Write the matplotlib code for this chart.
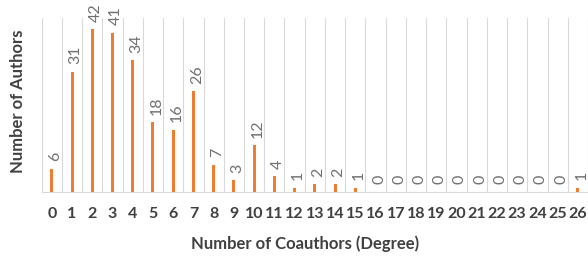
import matplotlib
matplotlib.use("Agg")
import matplotlib.pyplot as plt
import numpy as np

degree = [str(d) for d in range(27)]
authors = [6, 31, 42, 41, 34, 18, 16, 26, 7, 3, 12, 4, 1, 2, 2, 1,
           0, 0, 0, 0, 0, 0, 0, 0, 0, 0, 1]

plt.rcParams['font.family'] = ['Lato', 'DejaVu Sans']

fig = plt.figure(figsize=(5.88, 2.61), dpi=100)
ax = fig.add_axes([0.0709, 0.2644, 0.9291, 0.6682])

x = np.arange(len(authors))
ax.bar(x, authors, width=0.15, color='#ED7D31', zorder=3)

for xi, v in zip(x, authors):
    ax.annotate(str(v), (xi, v), xytext=(2.5, 5.5), textcoords='offset points',
                rotation=90, ha='center', va='bottom', fontsize=11.5,
                color='#707070')

ax.set_xlim(-0.5, 26.16)
ax.set_ylim(0, 45)
ax.set_xticks(x)
ax.set_xticklabels(degree, fontsize=11.5, fontweight='bold', color='#404040')
ax.tick_params(axis='x', length=0, pad=11)
ax.set_yticks([])
ax.set_xticks(np.arange(-0.5, 27, 1), minor=True)
ax.tick_params(axis='x', which='minor', length=0)
ax.grid(axis='x', which='minor', color='#d9d9d9', linewidth=0.8)
ax.grid(axis='x', which='major', visible=False)
for s in ['top', 'right', 'left']:
    ax.spines[s].set_visible(False)
ax.spines['bottom'].set_color('#d9d9d9')

fig.text(305 / 588, 1 - 244 / 261, 'Number of Coauthors (Degree)', ha='center',
         va='center', fontsize=12, fontweight='bold', color='#404040')
fig.text(18 / 588, 1 - 101 / 261, 'Number of Authors', ha='center', va='center',
         rotation=90, fontsize=12, fontweight='bold', color='#404040')

fig.savefig("out.png", dpi=100)
